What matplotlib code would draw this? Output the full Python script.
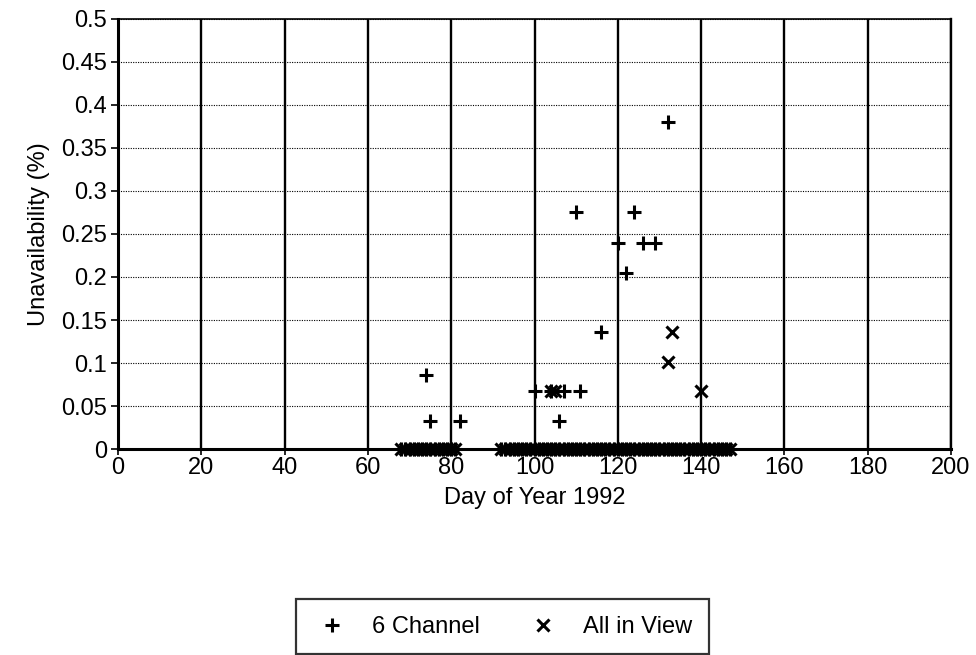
import matplotlib.pyplot as plt
import numpy as np

plt.rcParams['font.family'] = ['Liberation Sans', 'DejaVu Sans']

# days with zero unavailability (both receivers)
zero_days = list(range(68, 82)) + list(range(92, 148))

# 6 channel receiver, non-zero days
ch6_days = [74, 75, 82, 100, 104, 106, 107, 110, 111, 116, 120, 122, 124, 126, 129, 132]
ch6_vals = [0.086, 0.033, 0.033, 0.067, 0.067, 0.033, 0.067, 0.276, 0.067, 0.136,
            0.240, 0.205, 0.276, 0.240, 0.240, 0.380]

# all in view receiver, non-zero days
aiv_days = [104, 105, 132, 133, 140]
aiv_vals = [0.067, 0.067, 0.101, 0.136, 0.067]

xticks = np.arange(0, 201, 20)
yticks = [0, 0.05, 0.1, 0.15, 0.2, 0.25, 0.3, 0.35, 0.4, 0.45, 0.5]
ytick_labels = ['0', '0.05', '0.1', '0.15', '0.2', '0.25', '0.3', '0.35', '0.4', '0.45', '0.5']

fig = plt.figure(figsize=(9.76, 6.55), dpi=100)
ax = fig.add_axes([0.1209, 0.3145, 0.8535, 0.6565])

# zeros first, then non-zero points
ax.plot(zero_days, [0] * len(zero_days), linestyle='none', marker='+', color='black',
        markersize=10, markeredgewidth=2.2, clip_on=False, zorder=4)
ax.plot(zero_days, [0] * len(zero_days), linestyle='none', marker='x', color='black',
        markersize=8, markeredgewidth=2.2, clip_on=False, zorder=4)

p1, = ax.plot(ch6_days, ch6_vals, linestyle='none', marker='+', color='black',
              markersize=10, markeredgewidth=2.2, zorder=4)
p2, = ax.plot(aiv_days, aiv_vals, linestyle='none', marker='x', color='black',
              markersize=8, markeredgewidth=2.2, zorder=4)

ax.set_xlim(0, 200)
ax.set_ylim(0, 0.5)
ax.set_xticks(xticks)
ax.set_yticks(yticks)
ax.set_yticklabels(ytick_labels)

ax.grid(axis='x', color='black', linestyle='-', linewidth=1.7)
ax.grid(axis='y', color='black', linestyle=(0, (1, 1.2)), linewidth=0.8)
ax.set_axisbelow(True)

for s in ['left', 'bottom']:
    ax.spines[s].set_linewidth(2.2)
ax.spines['top'].set_linewidth(1.2)
ax.spines['right'].set_linewidth(1.7)

ax.tick_params(axis='both', labelsize=17, width=1.2, length=5, color='black')
ax.tick_params(axis='x', direction='inout', length=9, pad=1)
ax.tick_params(axis='y', direction='out', pad=3)

ax.set_xlabel('Day of Year 1992', fontsize=17, labelpad=6)
ax.set_ylabel('Unavailability (%)', fontsize=17, labelpad=8)

leg = fig.legend([p1, p2], ['6 Channel', 'All in View'], loc='center',
                 bbox_to_anchor=(0.515, 0.043), ncol=2, fontsize=17, frameon=True,
                 fancybox=False, edgecolor='black', handletextpad=0.9,
                 columnspacing=1.9, borderpad=0.7, handlelength=1.6)
leg.get_frame().set_linewidth(1.6)

fig.savefig('out.png', dpi=100)
